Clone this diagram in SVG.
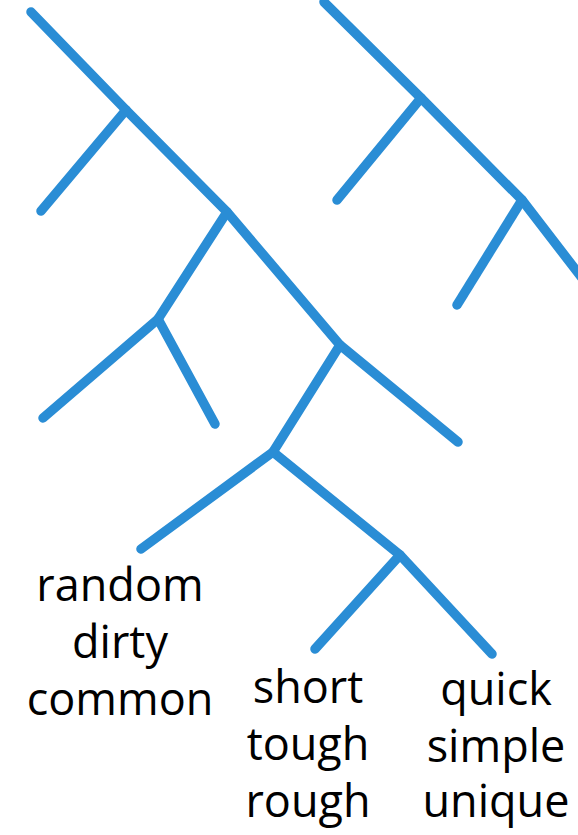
<svg xmlns="http://www.w3.org/2000/svg" width="578" height="835" viewBox="0 0 578 835">
<style>
.e{fill:none;stroke:#2a8dd5;stroke-width:9.5;stroke-linecap:round;stroke-linejoin:miter}
.t{font-family:"Open Sans","DejaVu Sans",sans-serif;font-size:45px;fill:#000;text-anchor:middle}
</style>
<rect width="578" height="835" fill="#fff"/>
<g id="connectors">
<polyline class="e" points="31,12 126,110 227,212 340,345 458,442"/>
<polyline class="e" points="126,110 41,211"/>
<polyline class="e" points="227,212 158,319 43,418"/>
<polyline class="e" points="158,319 215,424"/>
<polyline class="e" points="340,345 273,452 400,555 492,654"/>
<polyline class="e" points="273,452 141,549"/>
<polyline class="e" points="400,555 315,649"/>
<polyline class="e" points="324,2 421,98 522,200 592,291"/>
<polyline class="e" points="421,98 337,200"/>
<polyline class="e" points="522,200 457,305"/>
</g>
<g id="node-left">
<text class="t" x="120" y="601">random</text>
<text class="t" x="120" y="658">dirty</text>
<text class="t" x="120" y="715">common</text>
</g>
<g id="node-middle">
<text class="t" x="308" y="703">short</text>
<text class="t" x="308" y="760">tough</text>
<text class="t" x="308" y="817">rough</text>
</g>
<g id="node-right">
<text class="t" x="496" y="705">quick</text>
<text class="t" x="496" y="762">simple</text>
<text class="t" x="496" y="817">unique</text>
</g>
</svg>
